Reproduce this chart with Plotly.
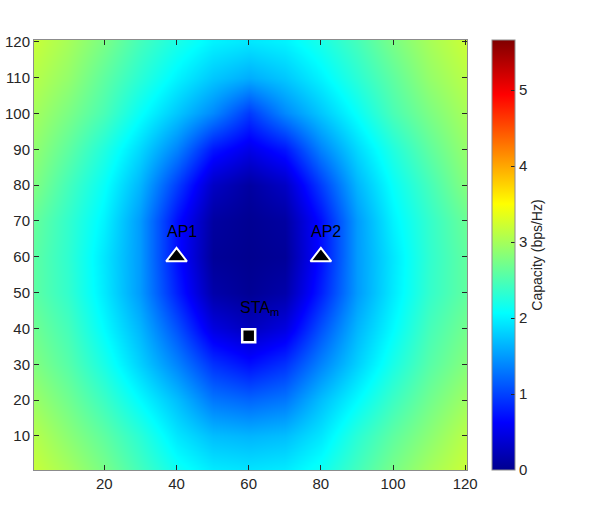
import plotly.graph_objects as go

x_pos = [0, 10, 20, 30, 40, 50, 60, 70, 80, 90, 100, 110, 120]
y_pos = [0, 10, 20, 30, 40, 50, 60, 70, 80, 90, 100, 110, 120]

# capacity (bps/Hz) rows, bottom to top
cap_y0 = [3.2, 3.0, 2.75, 2.45, 2.15, 1.97, 1.93, 1.97, 2.15, 2.45, 2.75, 3.0, 3.2]
cap_y10 = [3.1, 2.85, 2.6, 2.3, 1.93, 1.7, 1.65, 1.7, 1.93, 2.3, 2.6, 2.85, 3.1]
cap_y20 = [2.95, 2.7, 2.4, 2.05, 1.7, 1.3, 1.2, 1.3, 1.7, 2.05, 2.4, 2.7, 2.95]
cap_y30 = [2.8, 2.55, 2.2, 1.8, 1.37, 0.9, 0.7, 0.9, 1.37, 1.8, 2.2, 2.55, 2.8]
cap_y40 = [2.7, 2.45, 2.05, 1.65, 1.08, 0.45, 0.25, 0.45, 1.08, 1.65, 2.05, 2.45, 2.7]
cap_y50 = [2.6, 2.35, 1.95, 1.5, 0.8, 0.15, 0.03, 0.15, 0.8, 1.5, 1.95, 2.35, 2.6]
cap_y60 = [2.6, 2.33, 1.93, 1.5, 0.7, 0.05, 0.0, 0.05, 0.7, 1.5, 1.93, 2.33, 2.6]
cap_y70 = [2.65, 2.35, 2.0, 1.5, 0.7, 0.1, 0.02, 0.1, 0.7, 1.5, 2.0, 2.35, 2.65]
cap_y80 = [2.8, 2.45, 2.1, 1.65, 0.97, 0.3, 0.1, 0.3, 0.97, 1.65, 2.1, 2.45, 2.8]
cap_y90 = [2.9, 2.6, 2.25, 1.85, 1.37, 0.75, 0.5, 0.75, 1.37, 1.85, 2.25, 2.6, 2.9]
cap_y100 = [3.0, 2.76, 2.48, 2.1, 1.75, 1.4, 0.95, 1.4, 1.75, 2.1, 2.48, 2.76, 3.0]
cap_y110 = [3.1, 2.9, 2.6, 2.3, 2.0, 1.75, 1.6, 1.75, 2.0, 2.3, 2.6, 2.9, 3.1]
cap_y120 = [3.2, 3.0, 2.75, 2.45, 2.2, 2.0, 1.93, 2.0, 2.2, 2.45, 2.75, 3.0, 3.2]

ap_names = ['AP1', 'AP2']
ap_x = [40, 80]
ap_y = [60, 60]
sta_x = [60]
sta_y = [38]

cap_max = 5.66

# MATLAB style jet
jet = [
    [0.0, 'rgb(0,0,143)'],
    [0.111, 'rgb(0,0,255)'],
    [0.365, 'rgb(0,255,255)'],
    [0.619, 'rgb(255,255,0)'],
    [0.873, 'rgb(255,0,0)'],
    [1.0, 'rgb(128,0,0)'],
]

font_family = 'Liberation Sans, Arial, sans-serif'
tick_colour = '#262626'
axis_colour = '#8c8c8c'

z = [cap_y0, cap_y10, cap_y20, cap_y30, cap_y40, cap_y50, cap_y60,
     cap_y70, cap_y80, cap_y90, cap_y100, cap_y110, cap_y120]

fig = go.Figure()

fig.add_trace(go.Heatmap(
    x=x_pos, y=y_pos, z=z,
    zsmooth='best',
    colorscale=jet, zmin=0, zmax=cap_max,
    hoverinfo='skip',
    colorbar=dict(
        x=1.058, xanchor='left', xpad=0, ypad=0,
        y=0.5, yanchor='middle', len=1.0, lenmode='fraction',
        thickness=23, outlinewidth=1, outlinecolor=axis_colour,
        ticks='inside', ticklen=4, tickcolor=tick_colour,
        tickvals=[0, 1, 2, 3, 4, 5],
        tickfont=dict(family=font_family, size=15, color=tick_colour),
        title=dict(text='Capacity (bps/Hz)', side='right',
                   font=dict(family=font_family, size=14, color=tick_colour)),
    ),
))

fig.add_trace(go.Scatter(
    x=ap_x, y=ap_y, mode='markers', hoverinfo='skip',
    marker=dict(symbol='triangle-up', size=18, color='black',
                line=dict(color='white', width=2)),
))

fig.add_trace(go.Scatter(
    x=sta_x, y=sta_y, mode='markers', hoverinfo='skip',
    marker=dict(symbol='square', size=13, color='black',
                line=dict(color='white', width=2.5)),
))

for name, xx, yy in zip(ap_names, ap_x, ap_y):
    fig.add_annotation(x=xx + 1.5, y=yy + 7, text=name, showarrow=False,
                       font=dict(family=font_family, size=16, color='black'))
fig.add_annotation(x=sta_x[0] + 3, y=sta_y[0] + 7.5, text='STA<sub>m</sub>', showarrow=False,
                   font=dict(family=font_family, size=16, color='black'))

fig.update_xaxes(range=[0.5, 120.5], tickvals=[20, 40, 60, 80, 100, 120],
                 ticks='inside', ticklen=5, tickcolor=tick_colour,
                 showline=True, linecolor=axis_colour, linewidth=1, mirror='ticks',
                 showgrid=False, zeroline=False, automargin=False,
                 tickfont=dict(family=font_family, size=15, color=tick_colour))
fig.update_yaxes(range=[0.5, 120.5], tickvals=list(range(10, 121, 10)),
                 ticks='inside', ticklen=5, tickcolor=tick_colour,
                 showline=True, linecolor=axis_colour, linewidth=1, mirror='ticks',
                 showgrid=False, zeroline=False, automargin=False,
                 tickfont=dict(family=font_family, size=15, color=tick_colour))

fig.update_layout(
    width=598, height=529,
    margin=dict(l=34, r=131, t=40, b=59, autoexpand=False),
    plot_bgcolor='white', paper_bgcolor='white',
    showlegend=False,
)

# drop the browser's default body margin so the figure sits at the page corner
fig.write_html("out.html", config={'displayModeBar': False},
               post_script="document.body.style.margin='0px';")
